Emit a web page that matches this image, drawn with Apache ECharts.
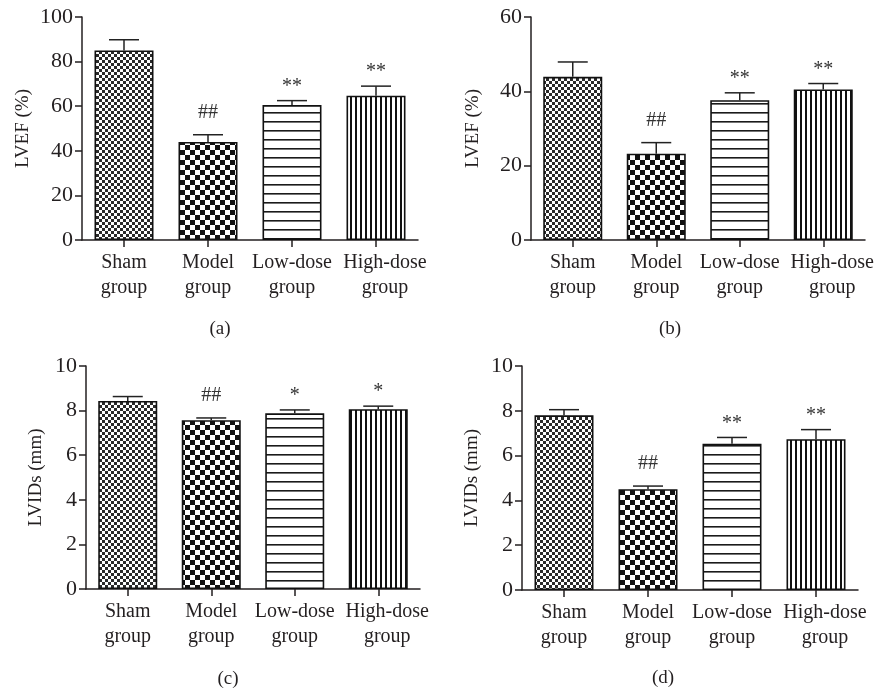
<!DOCTYPE html>
<html>
<head>
<meta charset="utf-8">
<script src="https://cdn.jsdelivr.net/npm/echarts@6/dist/echarts.min.js"></script>
<style>
html,body{margin:0;padding:0;background:#fff;}
#chart{width:885px;height:690px;}
</style>
</head>
<body>
<div id="chart"></div>
<script>
// ---------- data ----------
const categories = ['Sham\ngroup', 'Model\ngroup', 'Low-dose\ngroup', 'High-dose\ngroup'];

// (a) LVEF (%)
const lvefA = [85.0, 44.0, 60.5, 64.7];
const errA  = [4.8, 3.2, 2.0, 4.3];
const marksA = ['', '##', '**', '**'];
const ticksA = [0, 20, 40, 60, 80, 100];

// (b) LVEF (%)
const lvefB = [43.9, 23.2, 37.6, 40.5];
const errB  = [4.0, 3.0, 2.0, 1.6];
const marksB = ['', '##', '**', '**'];
const ticksB = [0, 20, 40, 60];

// (c) LVIDs (mm)
const lvidsC = [8.43, 7.57, 7.88, 8.06];
const errC   = [0.20, 0.10, 0.15, 0.14];
const marksC = ['', '##', '*', '*'];
const ticksC = [0, 2, 4, 6, 8, 10];

// (d) LVIDs (mm)
const lvidsD = [7.80, 4.50, 6.53, 6.73];
const errD   = [0.25, 0.14, 0.28, 0.43];
const marksD = ['', '##', '**', '**'];
const ticksD = [0, 2, 4, 6, 8, 10];

const captions = ['(a)', '(b)', '(c)', '(d)'];
const yNames = ['LVEF (%)', 'LVEF (%)', 'LVIDs (mm)', 'LVIDs (mm)'];

// ---------- styling ----------
const FONT = '"Liberation Serif", "Times New Roman", serif';
const INK = '#231f20';

function makePattern(kind) {
  const c = document.createElement('canvas');
  const ctx = c.getContext('2d');
  if (kind === 'fine') {
    c.width = 6; c.height = 6;
    ctx.fillStyle = '#fff'; ctx.fillRect(0, 0, 6, 6);
    ctx.fillStyle = '#2a2a2a';
    ctx.fillRect(0, 0, 3, 3); ctx.fillRect(3, 3, 3, 3);
  } else if (kind === 'coarse') {
    c.width = 10; c.height = 10;
    ctx.fillStyle = '#fff'; ctx.fillRect(0, 0, 10, 10);
    ctx.fillStyle = '#111';
    ctx.fillRect(0, 0, 5, 5); ctx.fillRect(5, 5, 5, 5);
  } else if (kind === 'hlines') {
    c.width = 9; c.height = 9;
    ctx.fillStyle = '#fff'; ctx.fillRect(0, 0, 9, 9);
    ctx.fillStyle = '#1a1a1a';
    ctx.fillRect(0, 4, 9, 1.6);
  } else {
    c.width = 5; c.height = 5;
    ctx.fillStyle = '#fff'; ctx.fillRect(0, 0, 5, 5);
    ctx.fillStyle = '#111';
    ctx.fillRect(0, 0, 2, 5);
  }
  return { image: c, repeat: 'repeat' };
}
const patterns = [makePattern('fine'), makePattern('coarse'), makePattern('hlines'), makePattern('vlines')];

const panels = [
  { vals: lvefA, err: errA, marks: marksA, ticks: ticksA },
  { vals: lvefB, err: errB, marks: marksB, ticks: ticksB },
  { vals: lvidsC, err: errC, marks: marksC, ticks: ticksC },
  { vals: lvidsD, err: errD, marks: marksD, ticks: ticksD }
];

const grids = [
  { left: 82, top: 17, width: 336, height: 223 },
  { left: 531, top: 17, width: 334, height: 223 },
  { left: 86, top: 366, width: 334, height: 223 },
  { left: 522, top: 366, width: 336, height: 224 }
];
const nameGaps = [49, 48, 40, 40];
const captionPos = [[220, 329], [670, 329], [228, 679], [663, 678]];

const option = {
  animation: false,
  backgroundColor: '#fff',
  grid: grids.map(g => Object.assign({ containLabel: false }, g)),
  xAxis: panels.map((p, i) => ({
    type: 'category',
    gridIndex: i,
    data: categories.map((c, k) => k === 3
      ? { value: c, textStyle: { padding: [0, 0, 0, 18] } }
      : c),
    axisLine: { lineStyle: { color: INK, width: 1.5 } },
    axisTick: { show: true, alignWithLabel: true, length: 7, lineStyle: { color: INK, width: 1.5 } },
    axisLabel: { color: INK, fontFamily: FONT, fontSize: 20, lineHeight: 25, margin: 10, interval: 0 }
  })),
  yAxis: panels.map((p, i) => {
    const t = p.ticks;
    return {
      type: 'value',
      gridIndex: i,
      min: t[0],
      max: t[t.length - 1],
      interval: t[1] - t[0],
      name: yNames[i],
      nameLocation: 'middle',
      nameGap: nameGaps[i],
      nameTextStyle: { color: INK, fontFamily: FONT, fontSize: 19 },
      axisLine: { show: true, lineStyle: { color: INK, width: 1.5 } },
      axisTick: { show: true, length: 7, lineStyle: { color: INK, width: 1.5 } },
      axisLabel: { color: INK, fontFamily: FONT, fontSize: 22, margin: 9 },
      splitLine: { show: false }
    };
  }),
  graphic: captions.map((c, i) => ({
    type: 'text',
    x: captionPos[i][0],
    y: captionPos[i][1],
    style: { text: c, fill: INK, font: '19px ' + FONT, align: 'center', verticalAlign: 'middle' }
  })),
  series: []
};

panels.forEach((p, i) => {
  option.series.push({
    type: 'bar',
    xAxisIndex: i,
    yAxisIndex: i,
    barWidth: 59,
    z: 2,
    data: p.vals.map((v, k) => ({
      value: v,
      itemStyle: { color: patterns[k], borderColor: '#111', borderWidth: 1.6 }
    }))
  });
  option.series.push({
    type: 'custom',
    xAxisIndex: i,
    yAxisIndex: i,
    z: 3,
    data: p.vals.map((v, k) => [k, v + p.err[k], v]),
    renderItem: function (params, api) {
      const k = api.value(0);
      const base = api.coord([k, api.value(2)]);
      const top = api.coord([k, api.value(1)]);
      const mark = p.marks[k];
      const children = [
        { type: 'line', shape: { x1: base[0], y1: base[1], x2: top[0], y2: top[1] },
          style: { stroke: '#222', lineWidth: 1.5 } },
        { type: 'line', shape: { x1: top[0] - 15, y1: top[1], x2: top[0] + 15, y2: top[1] },
          style: { stroke: '#222', lineWidth: 1.5 } }
      ];
      if (mark) {
        const off = mark === '##' ? 12 : 4;
        children.push({
          type: 'text',
          style: { text: mark, x: top[0], y: top[1] - off, fill: '#333',
                   font: '20px ' + FONT, align: 'center', verticalAlign: 'bottom' }
        });
      }
      return { type: 'group', children: children };
    }
  });
});

const chart = echarts.init(document.getElementById('chart'), null, { renderer: 'canvas' });
chart.setOption(option);
</script>
</body>
</html>
